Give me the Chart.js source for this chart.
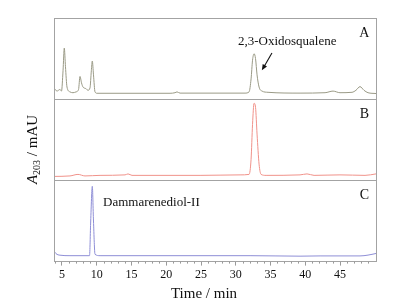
<!DOCTYPE html>
<html>
<head>
<meta charset="utf-8">
<script src="https://cdn.jsdelivr.net/npm/chart.js@4.4.1/dist/chart.umd.min.js"></script>
<style>
  html, body { margin: 0; padding: 0; background: #fff; }
  #wrap { width: 411px; height: 305px; }
</style>
</head>
<body>
<div id="wrap"><canvas id="hplc"></canvas></div>
<script>
// retention time (min) and absorbance (relative mAU)
const timeA = [3.85, 4.28, 4.71, 4.93, 5.15, 5.33, 5.50, 5.72, 6.15, 6.58, 7.02, 7.38, 7.59, 7.81, 8.02, 8.45, 8.74, 9.03, 9.22, 9.36, 9.53, 9.75, 10.04,
  20.54, 21.26, 21.55, 21.98, 31.33, 31.91, 32.20, 32.41, 32.63, 32.84, 33.06, 33.35, 33.78, 34.64, 39.24, 42.84, 43.99, 44.99, 46.72, 47.29, 47.87, 48.44, 49.02, 50.17];
const signalA = [14, 10, 12, 10, 35, 63, 40, 15, 9, 8, 9, 12, 28, 20, 15, 13, 11, 14, 35, 47, 30, 9, 7.3,
  7.3, 8, 9, 7.5, 7.5, 9, 25, 48, 56, 50, 30, 15, 10, 8.5, 7.5, 8, 10, 8, 8.5, 11, 15.5, 11, 8, 7];

const timeB = [3.85, 6.15, 7.30, 8.31, 10.47, 14.07, 14.50, 15.07, 24.86, 30.61, 31.91, 32.20, 32.41, 32.63, 32.84, 33.06, 33.35, 33.64, 34.36, 39.24, 40.25, 41.26, 44.99, 48.59, 50.17];
const signalB = [4.9, 5.5, 7.4, 5.5, 6.2, 6.8, 8, 6.2, 6.2, 6.8, 7.4, 26, 69, 95, 90, 57, 20, 7.4, 6.2, 6.8, 8, 6.2, 6.8, 6.2, 8];

const timeC = [3.85, 4.14, 4.71, 6.15, 8.96, 9.13, 9.36, 9.53, 9.75, 10.47, 32.05, 39.24, 42.12, 47.87, 49.02, 50.17];
const signalC = [13.4, 9.8, 7.9, 7.3, 7.3, 50, 92.7, 50, 9, 7.3, 7.3, 6.7, 7.0, 7.0, 8, 10];

const xTicks = [5, 10, 15, 20, 25, 30, 35, 40, 45];
const panelNames = ['A', 'B', 'C'];
const peakLabels = ['2,3-Oxidosqualene', 'Dammarenediol-II'];

const serif = "'Liberation Serif', 'Times New Roman', serif";

function toPoints(xs, ys) {
  return xs.map((x, i) => ({ x, y: ys[i] }));
}

const decorations = {
  id: 'decorations',
  afterDraw(chart) {
    const { ctx, chartArea, scales } = chart;
    const x = scales.x;
    ctx.save();

    // panel frames
    ctx.strokeStyle = '#a3a3a3';
    ctx.lineWidth = 1;
    ['yA', 'yB', 'yC'].forEach(id => {
      const s = scales[id];
      ctx.strokeRect(Math.round(chartArea.left) + 0.5, Math.round(s.top) + 0.5,
        Math.round(chartArea.right - chartArea.left), Math.round(s.bottom - s.top));
    });

    // minor ticks every minute
    ctx.strokeStyle = '#9a9a9a';
    ctx.beginPath();
    for (let t = 4; t <= 50; t++) {
      if (t % 5 === 0) continue;
      const px = Math.round(x.getPixelForValue(t)) + 0.5;
      ctx.moveTo(px, chartArea.bottom);
      ctx.lineTo(px, chartArea.bottom + 2);
    }
    ctx.stroke();

    ctx.fillStyle = '#111';
    ctx.textBaseline = 'middle';

    // panel letters
    ctx.font = '14px ' + serif;
    ctx.textAlign = 'center';
    ['yA', 'yB', 'yC'].forEach((id, i) => {
      ctx.fillText(panelNames[i], x.getPixelForValue(48.5), scales[id].getPixelForValue(81));
    });

    // peak annotations
    ctx.font = '13px ' + serif;
    ctx.fillText(peakLabels[0], x.getPixelForValue(37.4), scales.yA.getPixelForValue(71));
    ctx.textAlign = 'left';
    ctx.fillText(peakLabels[1], x.getPixelForValue(10.9), scales.yC.getPixelForValue(73));

    // arrow to the oxidosqualene peak
    const x0 = x.getPixelForValue(35.2), y0 = scales.yA.getPixelForValue(57);
    const x1 = x.getPixelForValue(33.75), y1 = scales.yA.getPixelForValue(35.5);
    const ang = Math.atan2(y1 - y0, x1 - x0);
    ctx.strokeStyle = '#111';
    ctx.lineWidth = 1.1;
    ctx.beginPath();
    ctx.moveTo(x0, y0);
    ctx.lineTo(x1 - 4 * Math.cos(ang), y1 - 4 * Math.sin(ang));
    ctx.stroke();
    ctx.beginPath();
    ctx.moveTo(x1, y1);
    ctx.lineTo(x1 - 6 * Math.cos(ang) + 2.5 * Math.sin(ang), y1 - 6 * Math.sin(ang) - 2.5 * Math.cos(ang));
    ctx.lineTo(x1 - 6 * Math.cos(ang) - 2.5 * Math.sin(ang), y1 - 6 * Math.sin(ang) + 2.5 * Math.cos(ang));
    ctx.closePath();
    ctx.fill();

    // x title
    ctx.font = '15px ' + serif;
    ctx.textAlign = 'center';
    ctx.fillText('Time / min', 204, 294);

    // y title: A203 / mAU, rotated
    ctx.translate(33, 149.5);
    ctx.rotate(-Math.PI / 2);
    ctx.textAlign = 'left';
    ctx.font = 'italic 15px ' + serif;
    const wA = ctx.measureText('A').width;
    ctx.font = '10px ' + serif;
    const wSub = ctx.measureText('203').width;
    ctx.font = '15px ' + serif;
    const wRest = ctx.measureText(' / mAU').width;
    let cx = -(wA + wSub + wRest) / 2;
    ctx.font = 'italic 15px ' + serif;
    ctx.fillText('A', cx, 0);
    cx += wA;
    ctx.font = '10px ' + serif;
    ctx.fillText('203', cx, 4);
    cx += wSub;
    ctx.font = '15px ' + serif;
    ctx.fillText(' / mAU', cx, 0);

    ctx.restore();
  }
};

function panelAxis() {
  return {
    type: 'linear',
    position: 'left',
    stack: 'panels',
    stackWeight: 1,
    min: 0,
    max: 100,
    ticks: { display: false },
    grid: { display: false, drawTicks: false },
    border: { display: false }
  };
}

const ctx = document.getElementById('hplc').getContext('2d');

new Chart(ctx, {
  type: 'line',
  data: {
    datasets: [
      { label: 'A', data: toPoints(timeA, signalA), yAxisID: 'yA', borderColor: '#9a9a86' },
      { label: 'B', data: toPoints(timeB, signalB), yAxisID: 'yB', borderColor: '#f0928a' },
      { label: 'C', data: toPoints(timeC, signalC), yAxisID: 'yC', borderColor: '#8e8ed6' }
    ]
  },
  options: {
    responsive: true,
    maintainAspectRatio: false,
    animation: false,
    layout: { padding: { left: 54, right: 35, top: 18, bottom: 21 } },
    elements: {
      point: { radius: 0 },
      line: { borderWidth: 1, cubicInterpolationMode: 'monotone' }
    },
    plugins: {
      legend: { display: false },
      tooltip: { enabled: false }
    },
    scales: {
      x: {
        type: 'linear',
        min: 3.85,
        max: 50.17,
        afterBuildTicks: axis => { axis.ticks = xTicks.map(v => ({ value: v })); },
        ticks: {
          font: { family: serif, size: 12 },
          color: '#111',
          padding: 2,
          maxRotation: 0,
          autoSkip: false
        },
        grid: { drawOnChartArea: false, tickLength: 4, color: '#9a9a9a' },
        border: { display: false }
      },
      // last stacked axis is placed on top
      yC: panelAxis(),
      yB: panelAxis(),
      yA: panelAxis()
    }
  },
  plugins: [decorations]
});
</script>
</body>
</html>
